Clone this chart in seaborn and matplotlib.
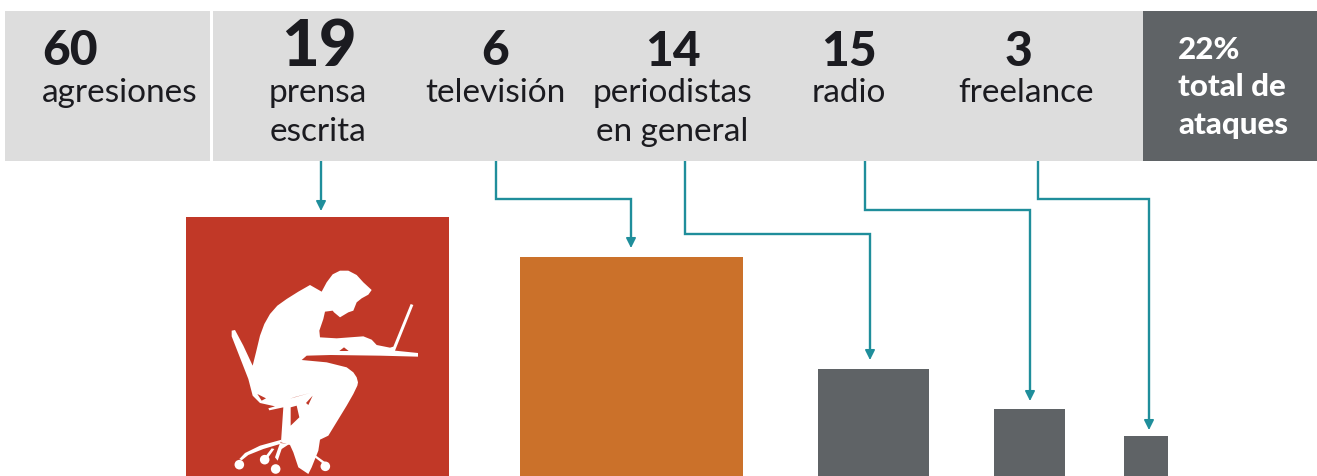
import matplotlib
matplotlib.use('Agg')
import matplotlib.pyplot as plt
from matplotlib.patches import Rectangle, Polygon, Circle
import seaborn as sns
import pandas as pd

# header values
total_value = '60'
total_label = 'agresiones'
counts = ['19', '6', '14', '15', '3']
labels = ['prensa\nescrita', 'televisión', 'periodistas\nen general', 'radio', 'freelance']
share_text = '22%\ntotal de\nataques'

# squares in pixels
bar_centers = [317.5, 631.5, 873.5, 1029.5, 1146]
bar_sides = [263, 223, 111, 71, 44]
bar_heights = [259, 219, 107, 67, 40]
bar_colors = ['#c13827', '#cb712a', '#5f6366', '#5f6366', '#5f6366']

INK = '#1b1b20'
TEAL = '#1f8e9b'
H = 477

plt.rcParams['font.family'] = ['Lato', 'DejaVu Sans']

fig = plt.figure(figsize=(13.17, 4.77), dpi=100)
ax = fig.add_axes([0, 0, 1, 1])

df = pd.DataFrame({'center': bar_centers, 'height': bar_heights})
sns.barplot(data=df, x='center', y='height', hue='center', palette=bar_colors,
            native_scale=True, legend=False, saturation=1, ax=ax)
for patch, c, w in zip(ax.patches, bar_centers, bar_sides):
    patch.set_x(c - w / 2)
    patch.set_width(w)

ax.set_xlim(0, 1317)
ax.set_ylim(0, H)
ax.axis('off')

# header band
ax.add_patch(Rectangle((5, H - 162), 1138, 150, color='#dddddd', lw=0))
ax.add_patch(Rectangle((1143, H - 162), 174, 150, color='#5f6366', lw=0))
ax.add_patch(Rectangle((210, H - 162), 3, 150, color='white', lw=0))

# header text
ax.text(42, H - 65, total_value, fontsize=34.5, fontweight=900, color=INK, va='baseline')
ax.text(42, H - 102, total_label, fontsize=24, color=INK, va='baseline')

count_x = [319, 495, 673, 849, 1019]
label_x = [318, 495, 672, 849, 1026]
count_size = [47, 34.5, 34.5, 34.5, 34.5]
count_base = [66, 65, 66, 66, 66]
for i in range(5):
    ax.text(count_x[i], H - count_base[i], counts[i], fontsize=count_size[i], fontweight=900,
            color=INK, ha='center', va='baseline')
    lines = labels[i].split('\n')
    for j, line in enumerate(lines):
        ax.text(label_x[i], H - 102 - j * 39, line, fontsize=24, color=INK,
                ha='center', va='baseline')

for j, line in enumerate(share_text.split('\n')):
    ax.text(1178, H - 59 - j * 37.5, line, fontsize=22.5, fontweight=900, color='white',
            va='baseline')

# connectors from the band to the squares
routes = [
    [(321, 162), (321, 212)],
    [(496, 162), (496, 200), (631, 200), (631, 249)],
    [(685, 162), (685, 235), (870, 235), (870, 361)],
    [(865, 162), (865, 211), (1030, 211), (1030, 402)],
    [(1038, 162), (1038, 200), (1149, 200), (1149, 431)],
]
for route in routes:
    xs = [p[0] for p in route]
    ys = [H - p[1] for p in route[:-1]] + [H - route[-1][1] + 8]
    ax.plot(xs, ys, color=TEAL, lw=1.7, solid_joinstyle='miter', solid_capstyle='butt')
    ax.annotate('', xy=(route[-1][0], H - route[-1][1]),
                xytext=(route[-1][0], H - route[-1][1] + 9),
                arrowprops=dict(arrowstyle='-|>,head_length=0.5,head_width=0.25',
                                color=TEAL, lw=1.2, mutation_scale=12,
                                shrinkA=0, shrinkB=0))


def crop(points):
    return [(180 + x / 3, H - (250 + y / 3)) for x, y in points]


person = [
    (425, 128), (440, 100), (458, 76), (480, 65), (505, 65), (530, 78), (550, 100), (575, 123),
    (565, 137), (545, 148), (530, 160), (520, 185), (505, 190), (480, 205), (462, 190),
    (458, 185), (435, 188), (430, 210), (418, 245), (420, 265), (470, 268), (550, 262),
    (575, 272), (590, 288), (630, 296), (640, 293), (692, 165), (700, 168), (645, 305),
    (714, 312), (714, 323), (600, 320), (452, 318), (380, 320), (365, 333), (440, 340),
    (500, 355), (520, 370), (530, 385), (534, 400), (532, 410), (520, 435), (500, 470),
    (445, 560), (420, 572), (415, 605), (395, 655), (385, 675), (355, 655), (340, 610),
    (330, 588), (303, 580), (310, 475), (268, 484), (265, 478), (285, 472), (240, 462),
    (218, 440), (205, 390), (155, 262), (155, 245), (165, 243), (190, 290), (218, 350),
    (228, 310), (240, 260), (253, 225), (270, 195), (292, 170), (320, 150), (355, 128),
    (390, 108),
]
ax.add_patch(Polygon(crop(person), closed=True, color='white', lw=0, zorder=5))

holes = [
    [(478, 306), (492, 295), (506, 306)],
    [(232, 435), (258, 448), (245, 455)],
    [(330, 449), (390, 432), (345, 444)],
    [(378, 462), (398, 440), (385, 468)],
    [(332, 530), (358, 505), (350, 470), (332, 475)],
]
for hole in holes:
    ax.add_patch(Polygon(crop(hole), closed=True, color='#c13827', lw=0, zorder=6))

chair_parts = [
    [(305, 572), (240, 590), (195, 612), (178, 630), (185, 634), (205, 618), (250, 600), (300, 585)],
    [(300, 582), (285, 625), (293, 635), (305, 600), (328, 585)],
    [(385, 610), (392, 608), (436, 640), (430, 645)],
    [(258, 620), (275, 598), (283, 600), (265, 625)],
]
for part in chair_parts:
    ax.add_patch(Polygon(crop(part), closed=True, color='white', lw=0, zorder=5))
for cx, cy in crop([(178, 647), (254, 632), (287, 660), (436, 652)]):
    ax.add_patch(Circle((cx, cy), 4.8, color='white', lw=0, zorder=5))

fig.savefig('out.png', dpi=100)
